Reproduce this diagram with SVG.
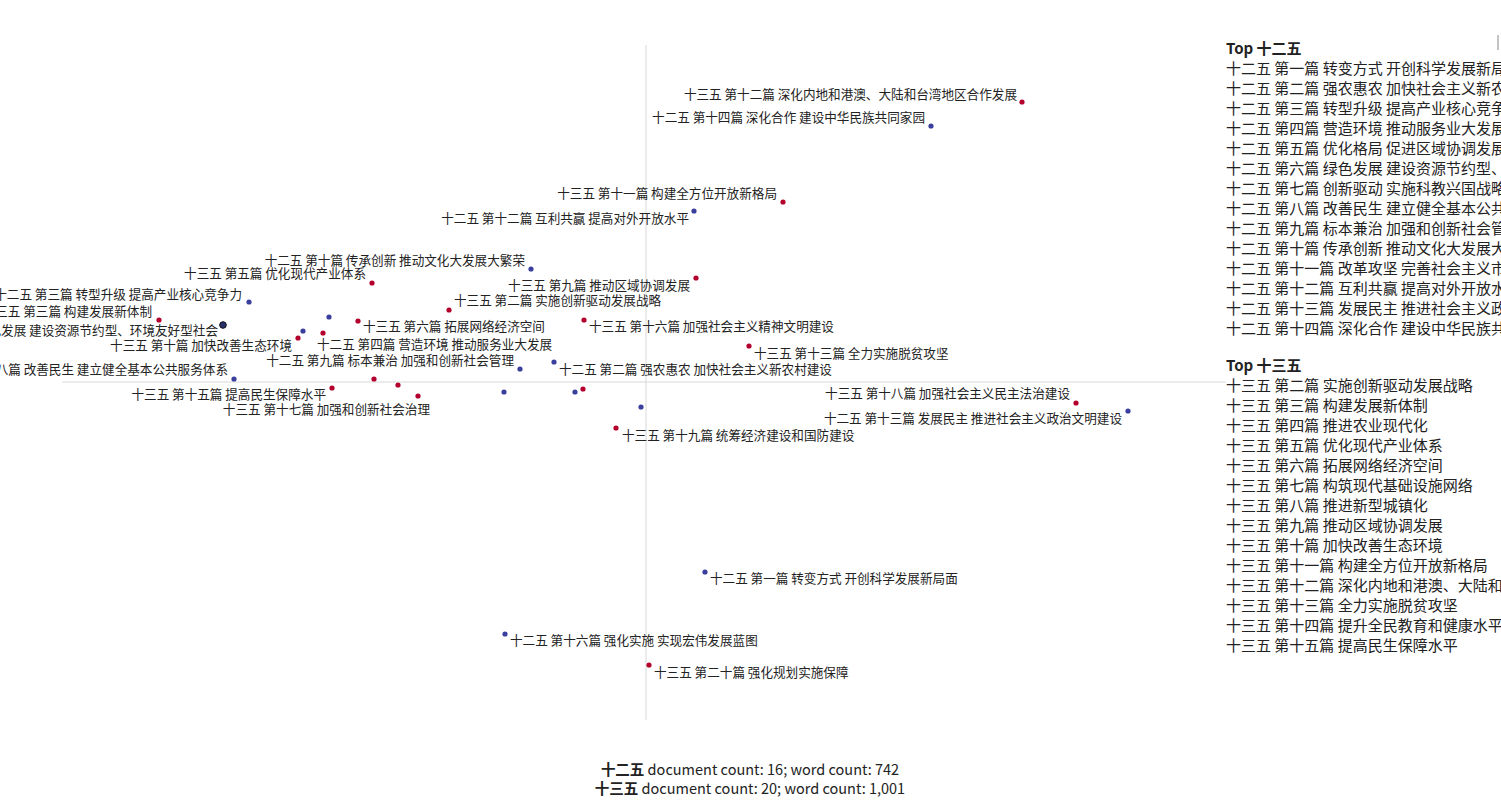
<svg xmlns="http://www.w3.org/2000/svg" width="1501" height="802" viewBox="0 0 1501 802">
<style>
text{font-family:"Noto Sans CJK SC","Liberation Sans",sans-serif;fill:#222}
.l{font-size:12.6px}
.e{text-anchor:end}
.g{font-size:15px}
.b{font-weight:bold}
.r{fill:#b3002d}
.u{fill:#3a3f9e}
.ax{stroke:#d8d8d8;stroke-width:1}
</style>
<rect width="1501" height="802" fill="#fff"/>
<g id="axes">
<line class="ax" x1="62" y1="382" x2="1226" y2="382"/>
<line class="ax" x1="646" y1="45" x2="646" y2="720"/>
<line x1="1498" y1="35" x2="1498" y2="50" stroke="#888"/>
</g>
<g id="points">
<circle class="r" cx="1022" cy="102" r="2.6"/>
<circle class="u" cx="931" cy="126" r="2.6"/>
<circle class="r" cx="783" cy="202" r="2.6"/>
<circle class="u" cx="694" cy="211" r="2.6"/>
<circle class="u" cx="531" cy="269" r="2.6"/>
<circle class="r" cx="372" cy="283" r="2.6"/>
<circle class="r" cx="696" cy="278" r="2.6"/>
<circle class="u" cx="249" cy="302" r="2.6"/>
<circle class="r" cx="449" cy="310" r="2.6"/>
<circle class="r" cx="159" cy="320" r="2.6"/>
<circle cx="223" cy="325" r="3.3" fill="#2a2f6e" stroke="#111" stroke-width="1"/>
<circle class="u" cx="329" cy="317" r="2.6"/>
<circle class="r" cx="358" cy="321" r="2.6"/>
<circle class="r" cx="584" cy="320" r="2.6"/>
<circle class="u" cx="303" cy="331" r="2.6"/>
<circle class="r" cx="323" cy="333" r="2.6"/>
<circle class="r" cx="298" cy="338" r="2.6"/>
<circle class="r" cx="749" cy="346" r="2.6"/>
<circle class="u" cx="520" cy="369" r="2.6"/>
<circle class="u" cx="554" cy="362" r="2.6"/>
<circle class="u" cx="234" cy="379" r="2.6"/>
<circle class="r" cx="374" cy="379" r="2.6"/>
<circle class="r" cx="398" cy="385" r="2.6"/>
<circle class="r" cx="418" cy="396" r="2.6"/>
<circle class="r" cx="332" cy="388" r="2.6"/>
<circle class="u" cx="504" cy="392" r="2.6"/>
<circle class="u" cx="575" cy="392" r="2.6"/>
<circle class="r" cx="583" cy="389" r="2.6"/>
<circle class="u" cx="641" cy="407" r="2.6"/>
<circle class="r" cx="1076" cy="403" r="2.6"/>
<circle class="u" cx="1128" cy="411" r="2.6"/>
<circle class="r" cx="616" cy="428" r="2.6"/>
<circle class="u" cx="705" cy="572" r="2.6"/>
<circle class="u" cx="505" cy="634" r="2.6"/>
<circle class="r" cx="649" cy="665" r="2.6"/>
</g>
<g id="labels" class="l">
<text class="l e" x="1017" y="99">十三五 第十二篇 深化内地和港澳、大陆和台湾地区合作发展</text>
<text class="l e" x="925" y="122">十二五 第十四篇 深化合作 建设中华民族共同家园</text>
<text class="l e" x="777" y="198">十三五 第十一篇 构建全方位开放新格局</text>
<text class="l e" x="689" y="223">十二五 第十二篇 互利共赢 提高对外开放水平</text>
<text class="l e" x="525" y="265">十二五 第十篇 传承创新 推动文化大发展大繁荣</text>
<text class="l e" x="366" y="278">十三五 第五篇 优化现代产业体系</text>
<text class="l e" x="690" y="290">十三五 第九篇 推动区域协调发展</text>
<text class="l e" x="242" y="299">十二五 第三篇 转型升级 提高产业核心竞争力</text>
<text class="l" x="454" y="305">十三五 第二篇 实施创新驱动发展战略</text>
<text class="l e" x="152" y="316">十三五 第三篇 构建发展新体制</text>
<text class="l e" x="218" y="335">十二五 第六篇 绿色发展 建设资源节约型、环境友好型社会</text>
<text class="l" x="363" y="331">十三五 第六篇 拓展网络经济空间</text>
<text class="l" x="589" y="331">十三五 第十六篇 加强社会主义精神文明建设</text>
<text class="l e" x="292" y="350">十三五 第十篇 加快改善生态环境</text>
<text class="l" x="317" y="349">十二五 第四篇 营造环境 推动服务业大发展</text>
<text class="l" x="754" y="358">十三五 第十三篇 全力实施脱贫攻坚</text>
<text class="l e" x="514" y="365">十二五 第九篇 标本兼治 加强和创新社会管理</text>
<text class="l" x="559" y="374">十二五 第二篇 强农惠农 加快社会主义新农村建设</text>
<text class="l e" x="228" y="374">十二五 第八篇 改善民生 建立健全基本公共服务体系</text>
<text class="l e" x="326" y="399">十三五 第十五篇 提高民生保障水平</text>
<text class="l e" x="430" y="414">十三五 第十七篇 加强和创新社会治理</text>
<text class="l e" x="1070" y="398">十三五 第十八篇 加强社会主义民主法治建设</text>
<text class="l e" x="1122" y="423">十二五 第十三篇 发展民主 推进社会主义政治文明建设</text>
<text class="l" x="622" y="440">十三五 第十九篇 统筹经济建设和国防建设</text>
<text class="l" x="710" y="583">十二五 第一篇 转变方式 开创科学发展新局面</text>
<text class="l" x="510" y="645">十二五 第十六篇 强化实施 实现宏伟发展蓝图</text>
<text class="l" x="654" y="677">十三五 第二十篇 强化规划实施保障</text>
</g>
<g id="legend12" class="g">
<text class="g b" x="1226" y="54">Top 十二五</text>
<text class="g" x="1226" y="74">十二五 第一篇 转变方式 开创科学发展新局面</text>
<text class="g" x="1226" y="94">十二五 第二篇 强农惠农 加快社会主义新农村建设</text>
<text class="g" x="1226" y="114">十二五 第三篇 转型升级 提高产业核心竞争力</text>
<text class="g" x="1226" y="134">十二五 第四篇 营造环境 推动服务业大发展</text>
<text class="g" x="1226" y="154">十二五 第五篇 优化格局 促进区域协调发展</text>
<text class="g" x="1226" y="174">十二五 第六篇 绿色发展 建设资源节约型、环境友好型社会</text>
<text class="g" x="1226" y="194">十二五 第七篇 创新驱动 实施科教兴国战略和人才强国战略</text>
<text class="g" x="1226" y="214">十二五 第八篇 改善民生 建立健全基本公共服务体系</text>
<text class="g" x="1226" y="234">十二五 第九篇 标本兼治 加强和创新社会管理</text>
<text class="g" x="1226" y="254">十二五 第十篇 传承创新 推动文化大发展大繁荣</text>
<text class="g" x="1226" y="274">十二五 第十一篇 改革攻坚 完善社会主义市场经济体制</text>
<text class="g" x="1226" y="294">十二五 第十二篇 互利共赢 提高对外开放水平</text>
<text class="g" x="1226" y="314">十二五 第十三篇 发展民主 推进社会主义政治文明建设</text>
<text class="g" x="1226" y="334">十二五 第十四篇 深化合作 建设中华民族共同家园</text>
</g>
<g id="legend13" class="g">
<text class="g b" x="1226" y="371">Top 十三五</text>
<text class="g" x="1226" y="391">十三五 第二篇 实施创新驱动发展战略</text>
<text class="g" x="1226" y="411">十三五 第三篇 构建发展新体制</text>
<text class="g" x="1226" y="431">十三五 第四篇 推进农业现代化</text>
<text class="g" x="1226" y="451">十三五 第五篇 优化现代产业体系</text>
<text class="g" x="1226" y="471">十三五 第六篇 拓展网络经济空间</text>
<text class="g" x="1226" y="491">十三五 第七篇 构筑现代基础设施网络</text>
<text class="g" x="1226" y="511">十三五 第八篇 推进新型城镇化</text>
<text class="g" x="1226" y="531">十三五 第九篇 推动区域协调发展</text>
<text class="g" x="1226" y="551">十三五 第十篇 加快改善生态环境</text>
<text class="g" x="1226" y="571">十三五 第十一篇 构建全方位开放新格局</text>
<text class="g" x="1226" y="591">十三五 第十二篇 深化内地和港澳、大陆和台湾地区合作发展</text>
<text class="g" x="1226" y="611">十三五 第十三篇 全力实施脱贫攻坚</text>
<text class="g" x="1226" y="631">十三五 第十四篇 提升全民教育和健康水平</text>
<text class="g" x="1226" y="651">十三五 第十五篇 提高民生保障水平</text>
</g>
<g id="footer">
<text x="750" y="775" font-size="14.5" text-anchor="middle"><tspan font-weight="bold">十二五</tspan> document count: 16; word count: 742</text>
<text x="750" y="794" font-size="14.5" text-anchor="middle"><tspan font-weight="bold">十三五</tspan> document count: 20; word count: 1,001</text>
</g>
</svg>
